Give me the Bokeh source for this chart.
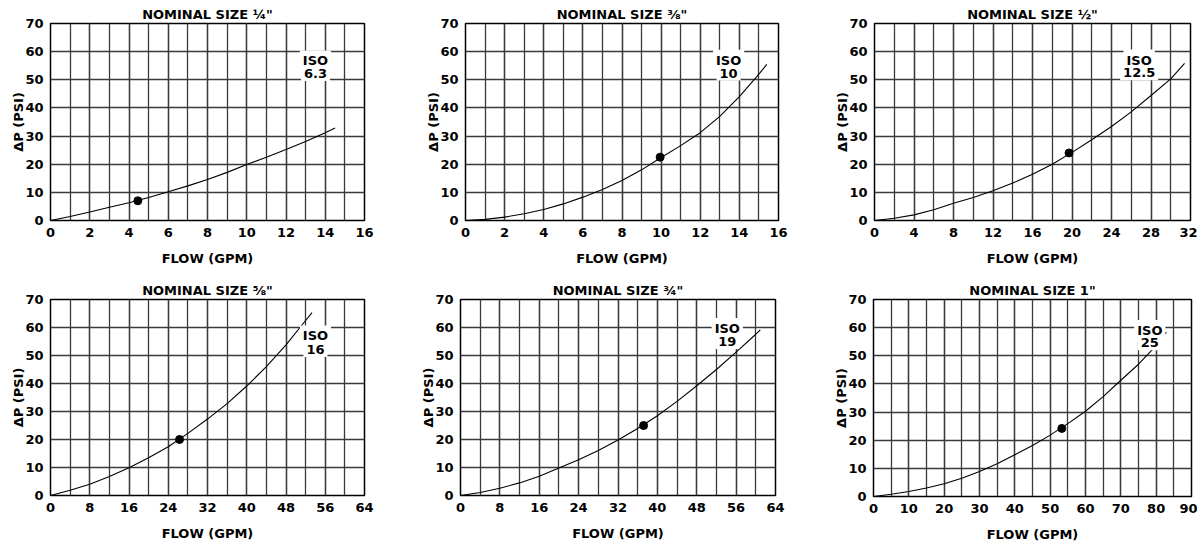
from bokeh.plotting import figure
from bokeh.layouts import column, row
from bokeh.models import Range1d, FixedTicker, Label
from bokeh.embed import file_html
from bokeh.resources import INLINE

# ---------------- data ----------------
titles = ['NOMINAL SIZE \u00bc"', 'NOMINAL SIZE \u215c"', 'NOMINAL SIZE \u00bd"',
          'NOMINAL SIZE \u215d"', 'NOMINAL SIZE \u00be"', 'NOMINAL SIZE 1"']
iso_sizes = ["6.3", "10", "12.5", "16", "19", "25"]

flow_14 = [0, 1, 2, 3, 4, 5, 6, 7, 8, 9, 10, 11, 12, 13, 14, 14.5]
dp_14 = [0, 1.4, 3.0, 4.7, 6.3, 8.2, 10.2, 12.3, 14.6, 17.1, 19.9, 22.5, 25.2, 28.1, 31.2, 32.9]

flow_38 = [0, 1, 2, 3, 4, 5, 6, 7, 8, 9, 10, 11, 12, 13, 14, 15, 15.4]
dp_38 = [0, 0.4, 1.2, 2.4, 3.9, 5.9, 8.3, 11.0, 14.2, 18.0, 22.4, 26.6, 31.2, 37.0, 44.0, 52.0, 55.5]

flow_12 = [0, 2, 4, 6, 8, 10, 12, 14, 16, 18, 20, 22, 24, 26, 28, 30, 31.4]
dp_12 = [0, 0.8, 2.0, 3.8, 6.1, 8.2, 10.6, 13.3, 16.4, 20.0, 24.2, 28.7, 33.4, 38.6, 44.4, 50.3, 55.8]

flow_58 = [0, 4, 8, 12, 16, 20, 24, 28, 32, 36, 40, 44, 48, 52, 53.3]
dp_58 = [0, 1.9, 4.0, 6.8, 9.9, 13.5, 17.4, 22.2, 27.3, 32.8, 39.1, 46.0, 53.8, 62.5, 65.3]

flow_34 = [0, 4, 8, 12, 16, 20, 24, 28, 32, 36, 40, 44, 48, 52, 56, 60, 60.9]
dp_34 = [0, 1.1, 2.6, 4.5, 6.9, 9.8, 12.8, 16.1, 19.8, 23.9, 28.5, 33.6, 39.2, 45.0, 51.2, 57.6, 59.1]

flow_1 = [0, 5, 10, 15, 20, 25, 30, 35, 40, 45, 50, 55, 60, 65, 70, 75, 79.4, 82.9]
dp_1 = [0, 0.8, 1.8, 3.0, 4.5, 6.5, 8.9, 11.6, 14.8, 18.1, 21.8, 25.9, 30.3, 35.5, 41.3, 47.0, 52.8, 58.4]

rated_flow = [4.45, 9.95, 19.7, 26.3, 37.2, 53.3]
rated_dp = [7.0, 22.5, 24.0, 20.0, 25.0, 24.2]

x_max = [16, 16, 32, 64, 64, 90]
x_major = [list(range(0, 17, 2)), list(range(0, 17, 2)), list(range(0, 33, 4)),
           list(range(0, 65, 8)), list(range(0, 65, 8)), list(range(0, 91, 10))]
x_minor = [list(range(0, 17, 1)), list(range(0, 17, 1)), list(range(0, 33, 2)),
           list(range(0, 65, 4)), list(range(0, 65, 4)), list(range(0, 91, 5))]
y_major = list(range(0, 71, 10))

# label anchor positions (data units): ISO line, size line
iso_x = [13.5, 13.45, 26.8, 54.0, 54.2, 78.2]
iso_y = [56.7, 56.9, 57.0, 57.0, 59.6, 59.0]
size_y = [52.2, 52.4, 52.5, 52.1, 55.0, 54.6]

flows = [flow_14, flow_38, flow_12, flow_58, flow_34, flow_1]
dps = [dp_14, dp_38, dp_12, dp_58, dp_34, dp_1]

# layout geometry: (frame_w, frame_h, border_left, border_right, border_top, border_bottom)
geom = [
    (314, 197, 50, 46, 23, 40),
    (313, 197, 55, 40, 23, 40),
    (316, 197, 56, 7, 23, 40),
    (314, 196, 50, 41, 31, 40),
    (315, 196, 55, 40, 29, 40),
    (318, 197, 58, 6, 29, 40),
]

FONT = "DejaVu Sans"
FS = "13px"
GRID = "#3a3a3a"


def make_panel(i):
    fw, fh, bl, br, bt, bb = geom[i]
    p = figure(frame_width=fw, frame_height=fh, output_backend="svg", toolbar_location=None,
               x_range=Range1d(0, x_max[i]), y_range=Range1d(0, 70),
               min_border_left=bl, min_border_right=br, min_border_top=bt,
               min_border_bottom=bb, title=titles[i])
    p.title.align = "center"
    p.title.text_font = FONT
    p.title.text_font_style = "bold"
    p.title.text_font_size = FS
    p.title.text_color = "black"
    p.title.standoff = 3
    p.outline_line_color = "black"
    p.outline_line_width = 1.5
    p.background_fill_color = "white"
    p.border_fill_color = "white"

    p.xaxis.ticker = FixedTicker(ticks=x_major[i], minor_ticks=x_minor[i])
    p.yaxis.ticker = FixedTicker(ticks=y_major)
    for ax in (p.xaxis[0], p.yaxis[0]):
        ax.axis_line_color = None
        ax.major_tick_line_color = None
        ax.minor_tick_line_color = None
        ax.major_label_text_font = FONT
        ax.major_label_text_font_style = "bold"
        ax.major_label_text_font_size = FS
        ax.major_label_text_color = "black"
        ax.axis_label_text_font = FONT
        ax.axis_label_text_font_style = "bold"
        ax.axis_label_text_font_size = FS
        ax.axis_label_text_color = "black"
    p.xaxis.axis_label = "FLOW (GPM)"
    p.yaxis.axis_label = "\u0394P (PSI)"
    p.xaxis.major_label_standoff = 1
    p.yaxis.major_label_standoff = 1
    p.xaxis.axis_label_standoff = 11
    p.yaxis.axis_label_standoff = -4

    p.xgrid.grid_line_color = GRID
    p.xgrid.grid_line_width = 1.3
    p.xgrid.minor_grid_line_color = GRID
    p.xgrid.minor_grid_line_width = 1.3
    p.ygrid.grid_line_color = GRID
    p.ygrid.grid_line_width = 1.3

    p.line(flows[i], dps[i], line_color="black", line_width=1.1)
    p.scatter([rated_flow[i]], [rated_dp[i]], size=8, color="black")

    for txt, yy in (("ISO", iso_y[i]), (iso_sizes[i], size_y[i])):
        p.add_layout(Label(x=iso_x[i], y=yy, text=txt, text_align="center",
                           text_baseline="middle", text_font=FONT,
                           text_font_style="bold", text_font_size=FS,
                           text_color="black", background_fill_color="white",
                           padding=3))
    return p


panels = [make_panel(i) for i in range(6)]
layout = column(row(*panels[:3], spacing=0), row(*panels[3:], spacing=0), spacing=0)

open("out.html", "w").write(file_html(layout, INLINE))
